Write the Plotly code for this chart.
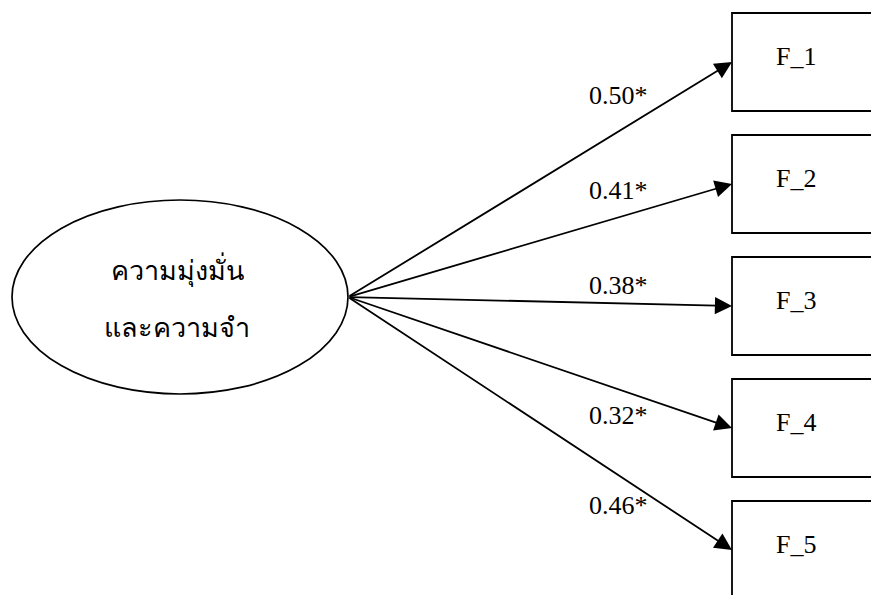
import plotly.graph_objects as go

factor_lines = ["ความมุ่งมั่น", "และความจำ"]
indicators = ["F_1", "F_2", "F_3", "F_4", "F_5"]
loadings = [0.50, 0.41, 0.38, 0.32, 0.46]

# layout geometry (pixels, y downward)
W, H = 871, 595
ell_cx, ell_cy, ell_rx, ell_ry = 180, 297, 168, 97
box_x0, box_x1 = 732, 905
box_top0, box_step, box_h = 13, 122, 98
label_x = 618
label_y = [95, 190, 285, 415, 505]

serif = "Liberation Serif, Times New Roman, serif"
shapes = []
annotations = []

shapes.append(dict(type="circle", xref="x", yref="y",
                   x0=ell_cx - ell_rx, x1=ell_cx + ell_rx,
                   y0=ell_cy - ell_ry, y1=ell_cy + ell_ry,
                   line=dict(color="black", width=1.7), fillcolor="white"))
for j, t in enumerate(factor_lines):
    annotations.append(dict(x=ell_cx - 3, y=ell_cy - 27 + j * 58, xref="x", yref="y",
                            text=t, showarrow=False,
                            font=dict(family=serif, size=27, color="black")))

src_x = ell_cx + ell_rx
for i, (name, val) in enumerate(zip(indicators, loadings)):
    top = box_top0 + i * box_step
    mid = top + box_h / 2
    shapes.append(dict(type="rect", xref="x", yref="y",
                       x0=box_x0, x1=box_x1, y0=top, y1=top + box_h,
                       line=dict(color="black", width=1.8), fillcolor="white"))
    annotations.append(dict(x=box_x0 + 64, y=top + 43, xref="x", yref="y",
                            text=name, showarrow=False,
                            font=dict(family=serif, size=26, color="black")))
    annotations.append(dict(x=box_x0, y=mid, ax=src_x, ay=ell_cy,
                            xref="x", yref="y", axref="x", ayref="y",
                            text="", showarrow=True, arrowhead=2,
                            arrowsize=1.9, arrowwidth=1.8, arrowcolor="black"))
    annotations.append(dict(x=label_x, y=label_y[i], xref="x", yref="y",
                            text=f"{val:.2f}*", showarrow=False,
                            font=dict(family=serif, size=26, color="black")))

fig = go.Figure()
fig.update_layout(width=W, height=H, margin=dict(l=0, r=0, t=0, b=0),
                  paper_bgcolor="white", plot_bgcolor="white",
                  shapes=shapes, annotations=annotations, showlegend=False,
                  xaxis=dict(range=[0, W], visible=False, fixedrange=True),
                  yaxis=dict(range=[H, 0], visible=False, fixedrange=True))
fig.write_html("out.html", config={"displayModeBar": False})

with open("out.html", encoding="utf-8") as f:
    html = f.read()
html = html.replace("<head>", "<head><style>html,body{margin:0;padding:0;overflow:hidden;}</style>", 1)
with open("out.html", "w", encoding="utf-8") as f:
    f.write(html)
